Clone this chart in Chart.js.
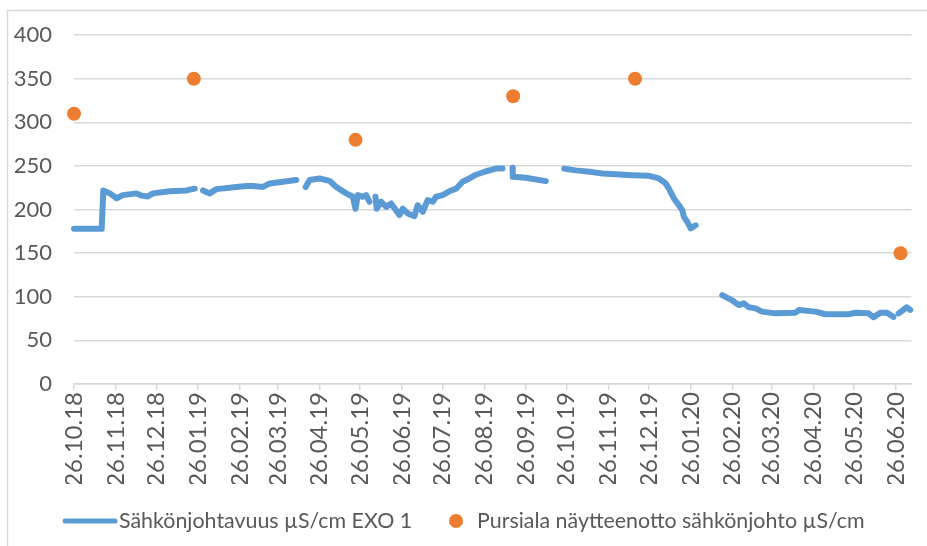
<!DOCTYPE html>
<html>
<head>
<meta charset="utf-8">
<script src="https://cdn.jsdelivr.net/npm/chart.js@4"></script>
<style>
  html, body { margin: 0; padding: 0; background: #fff; }
  #wrap { width: 927px; height: 546px; position: relative; }
</style>
</head>
<body>
<div id="wrap"><canvas id="chart" width="927" height="546"></canvas></div>
<script>
// --- Data: days since 26.10.18 ---
const startDate = Date.UTC(2018, 9, 26);
const tickDates = ['26.10.18', '26.11.18', '26.12.18', '26.01.19', '26.02.19', '26.03.19', '26.04.19',
  '26.05.19', '26.06.19', '26.07.19', '26.08.19', '26.09.19', '26.10.19', '26.11.19', '26.12.19',
  '26.01.20', '26.02.20', '26.03.20', '26.04.20', '26.05.20', '26.06.20'];
const yTicks = [0, 50, 100, 150, 200, 250, 300, 350, 400];

// EXO 1 sensor (null = gap in logging)
const exoDay = [0, 20.5, 21.7, 26.6, 31.6, 36.2, 46.4, 50.1, 54.7, 58.4, 71, 83.4, 89.5,
  92,
  95.6, 100.6, 105.5, 120.3, 127.7, 132.6, 140, 145, 154.8, 164.7,
  168,
  171.6, 174.6, 182, 189.3, 194.3, 201.7, 206.6, 208.6, 210.3, 214, 216.5, 218.9,
  221,
  223.4, 224.3, 227.6, 231.3, 235, 241.1, 243.6, 247.3, 252.2, 254.7, 258.4, 262.1, 265.8,
  268.3, 273.2, 278.1, 283.1, 287.9, 292.9, 297.9, 305.3, 312.6, 317.5,
  321,
  324.9, 325.1, 334.8, 349.6,
  356,
  363.2, 371.8, 384.1, 391.5, 413.7, 426, 433.4, 438.4, 440.8, 444.5, 448.2, 450.7, 451.9,
  454.4, 456.9, 460.6,
  470,
  480.3, 487.6, 492.6, 496.3, 500, 505, 509.8, 519.7, 534.5, 537, 549.3, 556.7, 574, 578.9,
  588.8, 592.5, 597.4, 602.3, 607.2,
  609,
  611, 617.1, 619.6];
const exoValue = [178, 178, 222, 218.6, 213, 216.6, 218.6, 216, 215, 218.6, 221, 222, 224,
  null,
  222, 218.6, 223.5, 226, 227, 227, 226, 230, 232, 234,
  null,
  226, 234, 235.7, 233, 226, 218.6, 214.7, 201, 216.6, 214.7, 216.6, 209,
  null,
  214.7, 201, 209, 203, 207, 193.7, 201, 195.6, 192.5, 205, 197.5, 211, 209,
  214.7, 216.6, 221, 224, 232, 235.7, 240, 244, 247, 247,
  null,
  248, 237.6, 236.5, 232.7,
  null,
  247, 245, 243, 241.5, 239.5, 238.7, 235.7, 230, 224, 212.8, 205, 199.4, 191.7,
  186, 178.5, 182,
  null,
  102, 96, 90.5, 92.5, 88, 86.7, 83, 81, 81.7, 84.8, 83, 80, 80, 81.7,
  81, 76.5, 81.7, 81.7, 77,
  null,
  81, 88, 85];

// Pursiala sampling
const sampleDay = [0, 88.8, 208.6, 325.4, 415.7, 612.4];
const sampleValue = [310, 350, 280, 330, 350, 150];

const exoLabel = 'Sähkönjohtavuus µS/cm EXO 1';
const sampleLabel = 'Pursiala näytteenotto sähkönjohto µS/cm';

const blue = '#5B9BD5';
const orange = '#ED7D31';
const textColor = '#595959';
const gridColor = '#D9D9D9';
const fontFamily = 'Lato, "Liberation Sans", sans-serif';

function dateToDay(s) {
  const [d, m, y] = s.split('.').map(Number);
  return (Date.UTC(2000 + y, m - 1, d) - startDate) / 86400000;
}
const tickDays = tickDates.map(dateToDay);

// --- custom legend + outer frame ---
const legendPlugin = {
  id: 'excelLegend',
  afterDraw(chart) {
    const ctx = chart.ctx;
    ctx.save();
    // frame
    ctx.strokeStyle = gridColor;
    ctx.lineWidth = 1.5;
    ctx.strokeRect(7.5, 10.5, 930, 560);
    const y = 521;
    ctx.strokeStyle = blue;
    ctx.lineWidth = 5;
    ctx.lineCap = 'round';
    ctx.beginPath();
    ctx.moveTo(65, y);
    ctx.lineTo(115, y);
    ctx.stroke();
    ctx.fillStyle = orange;
    ctx.beginPath();
    ctx.arc(456, y, 7, 0, Math.PI * 2);
    ctx.fill();
    ctx.fillStyle = textColor;
    ctx.font = '21.4px ' + fontFamily;
    ctx.textBaseline = 'middle';
    ctx.textAlign = 'left';
    ctx.fillText(exoLabel, 119, y);
    ctx.fillText(sampleLabel, 477, y);
    ctx.restore();
  }
};

new Chart(document.getElementById('chart'), {
  type: 'line',
  data: {
    datasets: [
      {
        label: exoLabel,
        data: exoDay.map((d, i) => ({ x: d, y: exoValue[i] })),
        borderColor: blue,
        backgroundColor: blue,
        borderWidth: 6,
        borderCapStyle: 'round',
        borderJoinStyle: 'round',
        pointRadius: 0,
        spanGaps: false,
        clip: false,
        tension: 0
      },
      {
        label: sampleLabel,
        type: 'scatter',
        data: sampleDay.map((d, i) => ({ x: d, y: sampleValue[i] })),
        backgroundColor: orange,
        borderColor: orange,
        pointRadius: 7,
        pointBorderWidth: 0,
        clip: false
      }
    ]
  },
  options: {
    responsive: false,
    animation: false,
    layout: { padding: { left: 0, right: 15, top: 35, bottom: 62 } },
    plugins: {
      legend: { display: false },
      tooltip: { enabled: false }
    },
    scales: {
      x: {
        type: 'linear',
        min: 0,
        max: 620.5,
        afterBuildTicks: scale => { scale.ticks = tickDays.map(v => ({ value: v })); },
        afterFit: scale => { scale.height = 100; },
        grid: {
          drawOnChartArea: false,
          drawTicks: true,
          tickLength: 6,
          color: gridColor,
          lineWidth: 1.5
        },
        border: { color: gridColor, width: 1.5 },
        ticks: {
          autoSkip: false,
          minRotation: 90,
          maxRotation: 90,
          padding: 2,
          color: textColor,
          font: { family: fontFamily, size: 24 },
          callback: v => tickDates[tickDays.indexOf(v)] || ''
        }
      },
      y: {
        min: 0,
        max: 400,
        afterBuildTicks: scale => { scale.ticks = yTicks.map(v => ({ value: v })); },
        afterFit: scale => { scale.width = 74; },
        grid: { color: gridColor, lineWidth: 1.5, drawTicks: false },
        border: { display: false },
        ticks: {
          padding: 22,
          color: textColor,
          font: { family: fontFamily, size: 22 }
        }
      }
    }
  },
  plugins: [legendPlugin]
});
</script>
</body>
</html>
